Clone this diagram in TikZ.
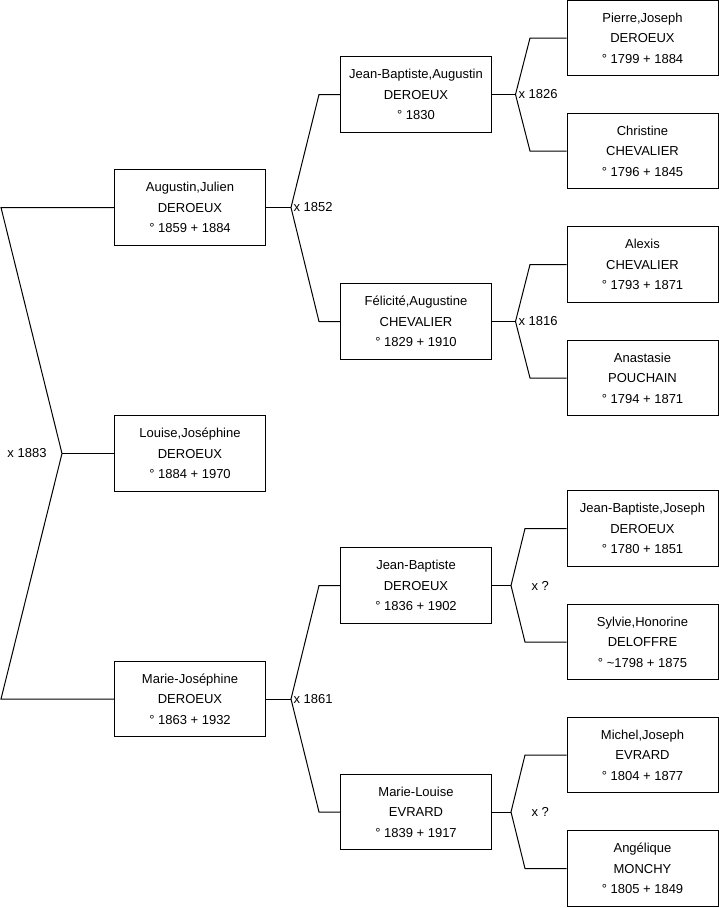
\documentclass[tikz,border=0pt]{standalone}
\usepackage{fontspec}
\setmainfont{Liberation Sans}
\usepackage{tikz}

\tikzset{
  person/.style={draw, line width=1pt, minimum width=151pt, minimum height=75.5pt,
    inner sep=0pt, align=center, font=\fontsize{13}{20.5}\selectfont},
  wedding/.style={inner sep=0pt, font=\fontsize{13}{16}\selectfont},
}

\begin{document}
\begin{tikzpicture}[x=1pt, y=-1pt, line width=1pt]
	\useasboundingbox (0,0) rectangle (719,908);
	% Persons:
	\node[person] (augustin) at (190, 207.5) {Augustin,Julien\\DEROEUX\\° 1859 + 1884};
	\node[person] (louise) at (190, 453.5) {Louise,Joséphine\\DEROEUX\\° 1884 + 1970};
	\node[person] (mariejo) at (190, 699) {Marie-Joséphine\\DEROEUX\\° 1863 + 1932};
	\node[person] (jbaugustin) at (416, 94.5) {Jean-Baptiste,Augustin\\DEROEUX\\° 1830};
	\node[person] (felicite) at (416, 321.5) {Félicité,Augustine\\CHEVALIER\\° 1829 + 1910};
	\node[person] (jbaptiste) at (416, 585.5) {Jean-Baptiste\\DEROEUX\\° 1836 + 1902};
	\node[person] (marielouise) at (416, 812) {Marie-Louise\\EVRARD\\° 1839 + 1917};
	\node[person] (pierre) at (642.5, 38) {Pierre,Joseph\\DEROEUX\\° 1799 + 1884};
	\node[person] (christine) at (642.5, 151) {Christine\\CHEVALIER\\° 1796 + 1845};
	\node[person] (alexis) at (642.5, 264.5) {Alexis\\CHEVALIER\\° 1793 + 1871};
	\node[person] (anastasie) at (642.5, 378) {Anastasie\\POUCHAIN\\° 1794 + 1871};
	\node[person] (jbjoseph) at (642.5, 528.5) {Jean-Baptiste,Joseph\\DEROEUX\\° 1780 + 1851};
	\node[person] (sylvie) at (642.5, 642) {Sylvie,Honorine\\DELOFFRE\\° \textasciitilde1798 + 1875};
	\node[person] (michel) at (642.5, 755) {Michel,Joseph\\EVRARD\\° 1804 + 1877};
	\node[person] (angelique) at (642.5, 868.5) {Angélique\\MONCHY\\° 1805 + 1849};
	% Forks and lines:
	\coordinate (r0) at (62, 453.5);
	\coordinate (r0a) at (1, 207.5);
	\coordinate (r0b) at (1, 699);
	\draw (augustin.west) -- (r0a) -- (r0) -- (r0b) -- (mariejo.west);
	\draw (r0) -- (louise.west);
	\node[wedding, anchor=east] (m1883) at (47, 453.5) {x 1883};
	\coordinate (f1) at (291, 207.5);
	\coordinate (f1a) at (319, 94.5);
	\coordinate (f1b) at (319, 321.5);
	\draw (jbaugustin.west) -- (f1a) -- (f1) -- (f1b) -- (felicite.west);
	\draw (augustin.east) -- (f1);
	\node[wedding, anchor=west] (m1852) at (293, 207.5) {x 1852};
	\coordinate (f2) at (291, 699);
	\coordinate (f2a) at (319, 585.5);
	\coordinate (f2b) at (319, 812);
	\draw (jbaptiste.west) -- (f2a) -- (f2) -- (f2b) -- (marielouise.west);
	\draw (mariejo.east) -- (f2);
	\node[wedding, anchor=west] (m1861) at (293, 699) {x 1861};
	\coordinate (f3) at (515.5, 94.5);
	\coordinate (f3a) at (530, 38);
	\coordinate (f3b) at (530, 151);
	\draw (pierre.west) -- (f3a) -- (f3) -- (f3b) -- (christine.west);
	\draw (jbaugustin.east) -- (f3);
	\node[wedding, anchor=west] (m1826) at (518, 94.5) {x 1826};
	\coordinate (f4) at (515.5, 321.5);
	\coordinate (f4a) at (530, 264.5);
	\coordinate (f4b) at (530, 378);
	\draw (alexis.west) -- (f4a) -- (f4) -- (f4b) -- (anastasie.west);
	\draw (felicite.east) -- (f4);
	\node[wedding, anchor=west] (m1816) at (518, 321.5) {x 1816};
	\coordinate (f5) at (511, 585.5);
	\coordinate (f5a) at (525, 528.5);
	\coordinate (f5b) at (525, 642);
	\draw (jbjoseph.west) -- (f5a) -- (f5) -- (f5b) -- (sylvie.west);
	\draw (jbaptiste.east) -- (f5);
	\node[wedding, anchor=west] (m1jb) at (531, 585.5) {x ?};
	\coordinate (f6) at (511, 812);
	\coordinate (f6a) at (525, 755);
	\coordinate (f6b) at (525, 868.5);
	\draw (michel.west) -- (f6a) -- (f6) -- (f6b) -- (angelique.west);
	\draw (marielouise.east) -- (f6);
	\node[wedding, anchor=west] (m1ml) at (531, 812) {x ?};
\end{tikzpicture}
\end{document}
